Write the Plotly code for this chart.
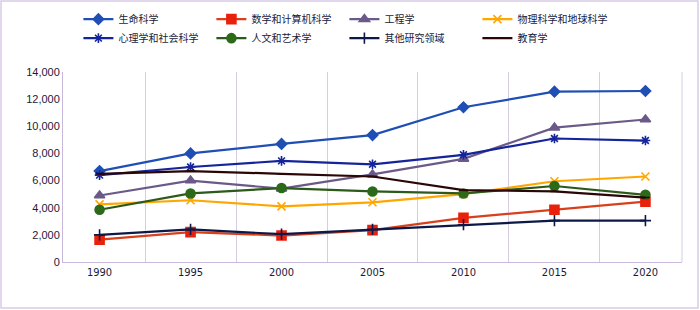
import plotly.graph_objects as go

years = ["1990", "1995", "2000", "2005", "2010", "2015", "2020"]

life_sci = [6700, 8000, 8700, 9350, 11400, 12550, 12600]
math_cs = [1650, 2200, 1950, 2350, 3250, 3850, 4450]
engineering = [4900, 6000, 5400, 6450, 7600, 9900, 10500]
phys_earth = [4250, 4550, 4100, 4400, 5000, 5950, 6300]
psych_social = [6400, 7000, 7450, 7200, 7900, 9100, 8950]
humanities = [3850, 5050, 5450, 5200, 5050, 5600, 4950]
other = [2000, 2400, 2050, 2400, 2750, 3050, 3050]
education = [6500, 6700, 6500, 6300, 5300, 5200, 4750]

series = [
    ("生命科学", life_sci, "#1f4fb4", "diamond", 8, "#1f4fb4"),
    ("数学和计算机科学", math_cs, "#d8401c", "square", 9, "#e8200c"),
    ("工程学", engineering, "#6b5a88", "triangle-up", 9, "#6b5a88"),
    ("物理科学和地球科学", phys_earth, "#ffa600", "x-thin-open", 8, "#ffa600"),
    ("心理学和社会科学", psych_social, "#14249a", "asterisk-open", 8, "#14249a"),
    ("人文和艺术学", humanities, "#2c5a1a", "circle", 9, "#2c6a1a"),
    ("其他研究领域", other, "#0c1848", "cross-thin-open", 8, "#0c1848"),
    ("教育学", education, "#2a0606", "line-ew-open", 6, "#2a0606"),
]

fig = go.Figure()
for name, vals, col, sym, size, mcol in series:
    fig.add_trace(go.Scatter(
        x=years, y=vals, name=name, mode="lines+markers",
        line=dict(color=col, width=2.2),
        marker=dict(symbol=sym, size=size, color=mcol,
                    line=dict(color=mcol, width=1.6)),
    ))

W, H = 700, 310
ml, mr, mt, mb = 63, 18, 72, 48
pw, ph = W - ml - mr, H - mt - mb

fig.update_layout(
    width=W, height=H,
    margin=dict(l=ml, r=mr, t=mt, b=mb),
    paper_bgcolor="white", plot_bgcolor="white",
    font=dict(family="Noto Sans CJK SC, Liberation Sans, sans-serif", size=11, color="#1a1a3a"),
    showlegend=True,
    legend=dict(
        orientation="h", xref="container", yref="container",
        x=0.112, y=0.985, xanchor="left", yanchor="top",
        entrywidth=88, entrywidthmode="pixels",
        font=dict(size=10, color="#1a1a3a"),
        itemwidth=30, tracegroupgap=0,
        bgcolor="rgba(0,0,0,0)",
    ),
    xaxis=dict(
        type="category", tickson="boundaries", showgrid=True,
        gridcolor="#d6cce4", gridwidth=1,
        showline=True, linecolor="#c8b8dc", linewidth=1,
        ticks="", tickfont=dict(family="DejaVu Sans Condensed, Liberation Sans", size=11, color="#1a1a3a"),
        mirror=False, zeroline=False,
    ),
    yaxis=dict(
        range=[0, 14000], dtick=2000, tickformat=",d",
        showgrid=False, showline=True, linecolor="#c8b8dc", linewidth=1,
        ticks="", zeroline=False,
        tickfont=dict(family="Liberation Sans, sans-serif", size=11, color="#1a1a3a"),
    ),
    shapes=[dict(
        type="rect", xref="paper", yref="paper",
        x0=(1 - ml) / pw, x1=(698 - ml) / pw,
        y0=(H - 308 - mb) / ph, y1=(H - 1 - mb) / ph,
        line=dict(color="#d8cce8", width=1.5), fillcolor="rgba(0,0,0,0)", layer="below",
    ),
    dict(
        type="line", xref="paper", yref="paper", x0=1, x1=1, y0=0, y1=1,
        line=dict(color="#d6cce4", width=1),
    )],
)

fig.write_html("out.html", config={"displayModeBar": False},
               post_script="document.body.style.margin='0';")
